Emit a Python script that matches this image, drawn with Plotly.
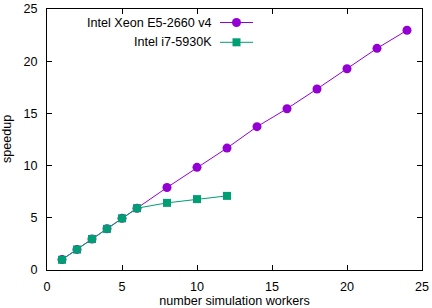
import plotly.graph_objects as go

workers_xeon = [1, 2, 3, 4, 5, 6, 8, 10, 12, 14, 16, 18, 20, 22, 24]
speedup_xeon = [1.0, 1.97, 2.97, 3.95, 4.95, 5.92, 7.9, 9.83, 11.68, 13.73, 15.45, 17.34, 19.28, 21.23, 22.96]
workers_i7 = [1, 2, 3, 4, 5, 6, 8, 10, 12]
speedup_i7 = [0.98, 1.96, 2.97, 3.94, 4.95, 5.92, 6.43, 6.79, 7.1]
series_names = ["Intel Xeon E5-2660 v4", "Intel i7-5930K"]
x_ticks = [0, 5, 10, 15, 20, 25]
y_ticks = [0, 5, 10, 15, 20, 25]

PURPLE = "#9400d3"
GREEN = "#009e73"
FONT = "Liberation Sans, Arial, Helvetica, sans-serif"
FS = 12.6

W, H = 432, 308
L, R, T, B = 47, 10, 9, 38
pw, ph = W - L - R, H - T - B

def px_x(p):
    return (p - L) / pw

def px_y(p):
    return 1 - (p - T) / ph

fig = go.Figure()
fig.add_trace(go.Scatter(x=workers_xeon, y=speedup_xeon, mode="lines+markers",
                         line=dict(color=PURPLE, width=1),
                         marker=dict(symbol="circle", size=9, color=PURPLE),
                         showlegend=False, cliponaxis=False))
fig.add_trace(go.Scatter(x=workers_i7, y=speedup_i7, mode="lines+markers",
                         line=dict(color=GREEN, width=1),
                         marker=dict(symbol="square", size=8, color=GREEN),
                         showlegend=False, cliponaxis=False))

# custom gnuplot-style legend (text left, sample right)
rows = [(series_names[0], PURPLE, "circle", 9, 22.5), (series_names[1], GREEN, "square", 8, 42.3)]
for name, col, sym, sz, ypx in rows:
    fig.add_trace(go.Scatter(x=[px_x(220), px_x(253)], y=[px_y(ypx)] * 2, mode="lines",
                             line=dict(color=col, width=1), xaxis="x2", yaxis="y2",
                             showlegend=False, hoverinfo="skip"))
    fig.add_trace(go.Scatter(x=[px_x(236.5)], y=[px_y(ypx)], mode="markers",
                             marker=dict(symbol=sym, size=sz, color=col), xaxis="x2", yaxis="y2",
                             showlegend=False, hoverinfo="skip"))
    fig.add_annotation(text=name, xref="paper", yref="paper", x=px_x(214), y=px_y(ypx),
                       xanchor="right", yanchor="middle", showarrow=False,
                       font=dict(family=FONT, size=FS, color="black"))

fig.add_annotation(text="speedup", xref="paper", yref="paper", x=px_x(6.5), y=0.5,
                   textangle=-90, xanchor="center", yanchor="middle", showarrow=False,
                   font=dict(family=FONT, size=FS, color="black"))

axis_common = dict(showgrid=False, zeroline=False, showline=True, linecolor="black",
                   linewidth=1, mirror="ticks", ticks="inside", ticklen=5, tickcolor="black",
                   tickwidth=1, tickfont=dict(family=FONT, size=FS, color="black"))

fig.update_layout(
    width=W, height=H,
    margin=dict(l=L, r=R, t=T, b=B, autoexpand=False),
    paper_bgcolor="white", plot_bgcolor="white",
    xaxis=dict(range=[0, 25], tickvals=x_ticks, ticktext=[str(v) for v in x_ticks],
               title=dict(text="number simulation workers", standoff=6,
                          font=dict(family=FONT, size=FS, color="black")),
               ticklabelstandoff=5, **axis_common),
    yaxis=dict(range=[0, 25], tickvals=y_ticks, ticktext=[str(v) for v in y_ticks],
               ticklabelstandoff=6, **axis_common),
    xaxis2=dict(range=[0, 1], overlaying="x", visible=False, fixedrange=True),
    yaxis2=dict(range=[0, 1], overlaying="y", visible=False, fixedrange=True),
)

fig.write_html("out.html")
